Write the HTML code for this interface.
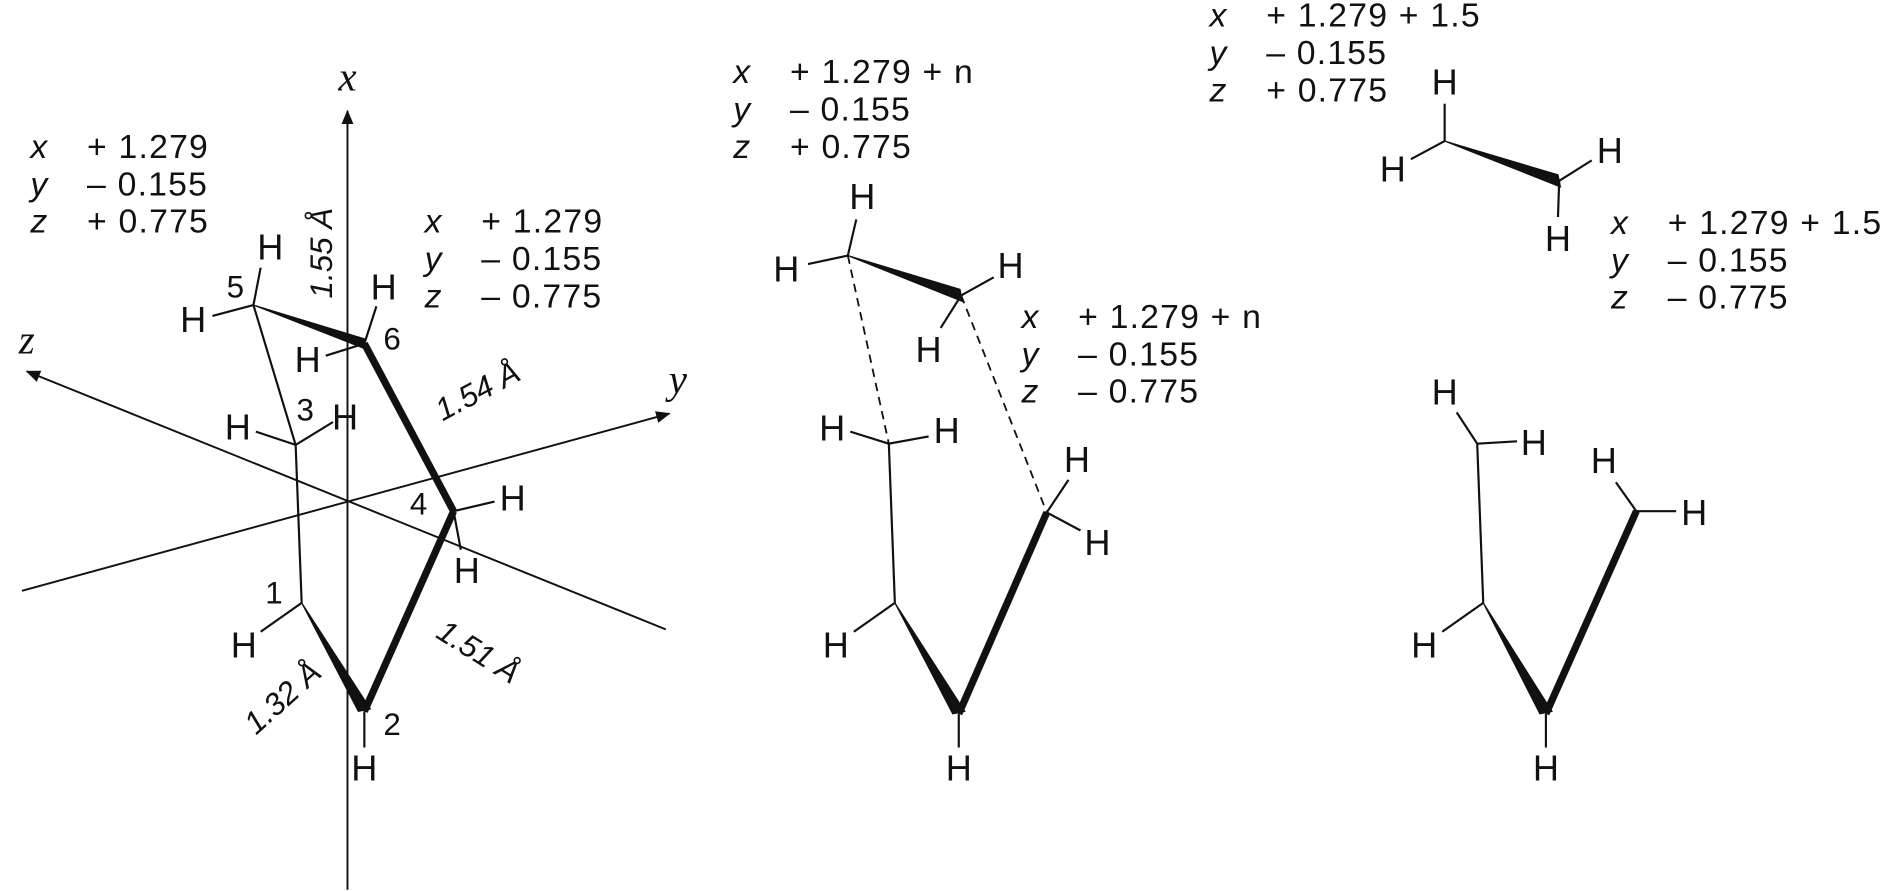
<!DOCTYPE html>
<html><head><meta charset="utf-8"><style>
html,body{margin:0;padding:0;background:#fff;}
svg{display:block;}
text{font-family:"Liberation Sans",sans-serif;fill:#111;}
.h{font-size:30px;text-anchor:middle;dominant-baseline:central;}
.n{font-size:26px;text-anchor:middle;dominant-baseline:central;}
.c{font-size:28px;letter-spacing:1px;}
.ax{font-family:"Liberation Serif",serif;font-style:italic;font-size:34px;text-anchor:middle;}
.bl{font-size:26px;font-style:italic;text-anchor:middle;}
</style></head><body>
<svg width="1891" height="891" viewBox="0 0 1568 739">
<defs><marker id="ar" markerWidth="12" markerHeight="10" refX="11" refY="5" orient="auto" markerUnits="userSpaceOnUse"><path d="M0,0 L12,5 L0,10 z" fill="#111"/></marker></defs>

<g stroke="#111" stroke-width="1.6">
<line x1="288" y1="738" x2="288" y2="92" marker-end="url(#ar)"/>
<line x1="552" y1="522" x2="22" y2="308" marker-end="url(#ar)"/>
<line x1="18" y1="490" x2="555" y2="343" marker-end="url(#ar)"/>
</g>
<text class="ax" x="288" y="75">x</text>
<text class="ax" x="22" y="293">z</text>
<text class="ax" x="562" y="326">y</text>

<g stroke="#111" fill="none">
<polygon points="210,253 302,281 302,289" fill="#111" stroke="#111" stroke-width="1"/>
<line x1="302" y1="285" x2="376" y2="424" stroke-width="6"/>
<line x1="376" y1="424" x2="302" y2="590" stroke-width="6"/>
<polygon points="250,500 297,590 307,588" fill="#111" stroke="#111" stroke-width="1"/>
<line x1="250" y1="500" x2="245" y2="369" stroke-width="1.8"/>
<line x1="245" y1="369" x2="210" y2="253" stroke-width="1.8"/>
<g stroke-width="1.8">
<line x1="210" y1="253" x2="216" y2="222"/><line x1="210" y1="253" x2="176" y2="262"/>
<line x1="302" y1="285" x2="312" y2="254"/><line x1="302" y1="285" x2="270" y2="295"/>
<line x1="245" y1="369" x2="212" y2="358"/><line x1="245" y1="369" x2="276" y2="350"/>
<line x1="376" y1="424" x2="410" y2="416"/><line x1="376" y1="424" x2="382" y2="456"/>
<line x1="250" y1="500" x2="216" y2="524"/><line x1="302" y1="590" x2="302" y2="620"/>
</g></g>
<g>
<text class="h" x="224" y="205">H</text><text class="h" x="160" y="265">H</text>
<text class="h" x="318" y="238">H</text><text class="h" x="255" y="298">H</text>
<text class="h" x="197" y="354">H</text><text class="h" x="286" y="346">H</text>
<text class="h" x="425" y="413">H</text><text class="h" x="387" y="473">H</text>
<text class="h" x="202" y="535">H</text><text class="h" x="302" y="637">H</text>
<text class="n" x="195" y="238">5</text><text class="n" x="325" y="281">6</text>
<text class="n" x="253" y="340">3</text><text class="n" x="347" y="418">4</text>
<text class="n" x="227" y="492">1</text><text class="n" x="325" y="601">2</text>
</g>
<g>
<text class="bl" transform="translate(275,210) rotate(-90)">1.55 Å</text>
<text class="bl" transform="translate(400,332) rotate(-28)">1.54 Å</text>
<text class="bl" transform="translate(392,548) rotate(32)">1.51 Å</text>
<text class="bl" transform="translate(240,585) rotate(-42)">1.32 Å</text>
</g>

<g>
<text class="c" x="25" y="131"><tspan font-style="italic">x</tspan><tspan x="72">+ 1.279</tspan></text>
<text class="c" x="25" y="162"><tspan font-style="italic">y</tspan><tspan x="72">– 0.155</tspan></text>
<text class="c" x="25" y="193"><tspan font-style="italic">z</tspan><tspan x="72">+ 0.775</tspan></text>
<text class="c" x="352" y="193"><tspan font-style="italic">x</tspan><tspan x="399">+ 1.279</tspan></text>
<text class="c" x="352" y="224"><tspan font-style="italic">y</tspan><tspan x="399">– 0.155</tspan></text>
<text class="c" x="352" y="255"><tspan font-style="italic">z</tspan><tspan x="399">– 0.775</tspan></text>
<text class="c" x="608" y="69"><tspan font-style="italic">x</tspan><tspan x="655">+ 1.279 + n</tspan></text>
<text class="c" x="608" y="100"><tspan font-style="italic">y</tspan><tspan x="655">– 0.155</tspan></text>
<text class="c" x="608" y="131"><tspan font-style="italic">z</tspan><tspan x="655">+ 0.775</tspan></text>
<text class="c" x="847" y="272"><tspan font-style="italic">x</tspan><tspan x="894">+ 1.279 + n</tspan></text>
<text class="c" x="847" y="303"><tspan font-style="italic">y</tspan><tspan x="894">– 0.155</tspan></text>
<text class="c" x="847" y="334"><tspan font-style="italic">z</tspan><tspan x="894">– 0.775</tspan></text>
<text class="c" x="1003" y="22"><tspan font-style="italic">x</tspan><tspan x="1050">+ 1.279 + 1.5</tspan></text>
<text class="c" x="1003" y="53"><tspan font-style="italic">y</tspan><tspan x="1050">– 0.155</tspan></text>
<text class="c" x="1003" y="84"><tspan font-style="italic">z</tspan><tspan x="1050">+ 0.775</tspan></text>
<text class="c" x="1336" y="194"><tspan font-style="italic">x</tspan><tspan x="1383">+ 1.279 + 1.5</tspan></text>
<text class="c" x="1336" y="225"><tspan font-style="italic">y</tspan><tspan x="1383">– 0.155</tspan></text>
<text class="c" x="1336" y="256"><tspan font-style="italic">z</tspan><tspan x="1383">– 0.775</tspan></text>
</g>

<g stroke="#111" fill="none" stroke-width="1.8">
<polygon points="703,212 796,240 798,250" fill="#111" stroke-width="1"/>
<line x1="703" y1="212" x2="737" y2="368" stroke-dasharray="7,5" stroke-width="1.5"/>
<line x1="797" y1="245" x2="868" y2="425" stroke-dasharray="7,5" stroke-width="1.5"/>
<line x1="703" y1="212" x2="710" y2="182"/><line x1="703" y1="212" x2="670" y2="219"/>
<line x1="797" y1="245" x2="824" y2="230"/><line x1="797" y1="245" x2="780" y2="272"/>
<line x1="737" y1="368" x2="742" y2="500"/>
<line x1="737" y1="368" x2="705" y2="358"/><line x1="737" y1="368" x2="770" y2="362"/>
<line x1="868" y1="425" x2="886" y2="398"/><line x1="868" y1="425" x2="896" y2="440"/>
<polygon points="742,500 790,592 800,590" fill="#111" stroke-width="1"/>
<line x1="795" y1="592" x2="868" y2="425" stroke-width="6"/>
<line x1="742" y1="500" x2="708" y2="524"/><line x1="795" y1="592" x2="795" y2="620"/>
</g>
<g>
<text class="h" x="715" y="163">H</text><text class="h" x="652" y="223">H</text>
<text class="h" x="838" y="220">H</text><text class="h" x="770" y="290">H</text>
<text class="h" x="690" y="355">H</text><text class="h" x="785" y="357">H</text>
<text class="h" x="893" y="381">H</text><text class="h" x="910" y="450">H</text>
<text class="h" x="693" y="535">H</text><text class="h" x="795" y="637">H</text>
</g>

<g stroke="#111" fill="none" stroke-width="1.8">
<polygon points="1198,117 1292,145 1294,155" fill="#111" stroke-width="1"/>
<line x1="1198" y1="117" x2="1198" y2="86"/><line x1="1198" y1="117" x2="1170" y2="132"/>
<line x1="1293" y1="150" x2="1320" y2="133"/><line x1="1293" y1="150" x2="1292" y2="180"/>
<line x1="1225" y1="368" x2="1230" y2="500"/>
<line x1="1225" y1="368" x2="1208" y2="342"/><line x1="1225" y1="368" x2="1258" y2="366"/>
<line x1="1357" y1="424" x2="1340" y2="400"/><line x1="1357" y1="424" x2="1390" y2="424"/>
<polygon points="1230,500 1277,592 1287,590" fill="#111" stroke-width="1"/>
<line x1="1282" y1="592" x2="1357" y2="424" stroke-width="6"/>
<line x1="1230" y1="500" x2="1196" y2="524"/><line x1="1282" y1="592" x2="1282" y2="620"/>
</g>
<g>
<text class="h" x="1198" y="68">H</text><text class="h" x="1155" y="140">H</text>
<text class="h" x="1335" y="125">H</text><text class="h" x="1292" y="198">H</text>
<text class="h" x="1198" y="325">H</text><text class="h" x="1272" y="367">H</text>
<text class="h" x="1330" y="382">H</text><text class="h" x="1405" y="425">H</text>
<text class="h" x="1181" y="535">H</text><text class="h" x="1282" y="637">H</text>
</g>
</svg>
</body></html>
